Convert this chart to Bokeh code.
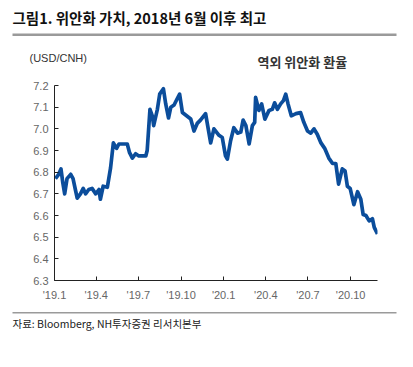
from datetime import datetime
from bokeh.plotting import figure
from bokeh.layouts import column
from bokeh.models import Label, BoxAnnotation, FixedTicker, Range1d
from bokeh.embed import file_html
from bokeh.resources import INLINE

dates = ["2019-01-03","2019-01-10","2019-01-15","2019-01-19","2019-01-23","2019-01-28","2019-02-05",
         "2019-02-10","2019-02-15","2019-02-19","2019-02-26","2019-03-04","2019-03-09","2019-03-16",
         "2019-03-23","2019-03-31","2019-04-07","2019-04-10","2019-04-16","2019-04-25","2019-05-02",
         "2019-05-08","2019-05-15","2019-05-20","2019-05-31","2019-06-07","2019-06-12","2019-06-18",
         "2019-06-25","2019-07-02","2019-07-17","2019-07-20","2019-07-26","2019-07-31","2019-08-03",
         "2019-08-11","2019-08-16","2019-08-24","2019-08-29","2019-09-04","2019-09-09","2019-09-16",
         "2019-09-23","2019-09-28","2019-10-04","2019-10-13","2019-10-22","2019-10-29","2019-11-05",
         "2019-11-12","2019-11-23","2019-12-04","2019-12-11","2019-12-22","2019-12-29","2020-01-05",
         "2020-01-09","2020-01-16","2020-01-23","2020-01-31","2020-02-07","2020-02-12","2020-02-18",
         "2020-02-25","2020-03-03","2020-03-08","2020-03-10","2020-03-17","2020-03-23","2020-03-30",
         "2020-04-08","2020-04-15","2020-04-20","2020-04-26","2020-05-03","2020-05-09","2020-05-14",
         "2020-05-19","2020-05-26","2020-06-05","2020-06-15","2020-06-22","2020-06-30","2020-07-07",
         "2020-07-14","2020-07-21","2020-07-29","2020-08-06","2020-08-15","2020-08-23","2020-08-30",
         "2020-09-05","2020-09-13","2020-09-19","2020-09-24","2020-09-30","2020-10-08","2020-10-16",
         "2020-10-23","2020-10-28","2020-11-03","2020-11-10","2020-11-17","2020-11-21","2020-11-28"]
usdcnh = [6.77,6.79,6.815,6.75,6.70,6.77,6.79,
          6.77,6.72,6.68,6.70,6.725,6.70,6.72,
          6.725,6.70,6.72,6.675,6.735,6.73,6.82,
          6.935,6.91,6.93,6.93,6.93,6.89,6.865,
          6.885,6.875,6.875,6.90,7.09,7.06,7.015,
          7.09,7.16,7.185,7.115,7.05,7.10,7.11,
          7.14,7.16,7.075,7.06,7.045,6.99,7.025,
          7.04,7.07,6.935,7.0,6.97,6.96,6.875,
          6.86,6.945,7.005,6.98,6.985,7.04,7.015,
          6.93,7.015,7.03,7.145,7.085,7.115,7.045,
          7.085,7.09,7.12,7.09,7.115,7.13,7.16,
          7.115,7.06,7.07,7.075,7.03,6.99,6.98,
          7.0,6.975,6.935,6.91,6.865,6.84,6.84,
          6.745,6.815,6.805,6.735,6.725,6.65,6.71,
          6.675,6.605,6.60,6.575,6.585,6.545,6.515]

tick_dates = ["2019-01-01","2019-04-01","2019-07-01","2019-10-01",
              "2020-01-01","2020-04-01","2020-07-01","2020-10-01"]
tick_labels = ["'19.1","'19.4","'19.7","'19.10","'20.1","'20.4","'20.7","'20.10"]
y_ticks = [6.3,6.4,6.5,6.6,6.7,6.8,6.9,7.0,7.1,7.2]

title_text = "그림1. 위안화 가치, 2018년 6월 이후 최고"
unit_text = "(USD/CNH)"
series_text = "역외 위안화 환율"
source_text = "자료: Bloomberg, NH투자증권 리서치본부"

FONT = "Liberation Sans"
KFONT = "Noto Sans CJK KR"
W = 405
TOP_H, MAIN_H, BOT_H = 70, 233, 56


def no_align(f):
    try:
        f.frame_align = False
    except Exception:
        pass


def blank_fig(h):
    f = figure(width=W, height=h, output_backend="svg", toolbar_location=None,
               x_axis_location=None, y_axis_location=None,
               min_border=0, min_border_left=0, min_border_right=0,
               min_border_top=0, min_border_bottom=0)
    f.x_range = Range1d(0, W)
    f.y_range = Range1d(h, 0)
    f.grid.visible = False
    f.outline_line_color = None
    f.border_fill_color = "white"
    f.background_fill_color = "white"
    no_align(f)
    return f


def add_text(f, x, y, text, size, color, bold=False, font=KFONT):
    f.add_layout(Label(x=x, y=y, text=text, text_font=font, text_font_size=size,
                       text_color=color, text_font_style="bold" if bold else "normal",
                       text_baseline="middle", text_align="left"))


def add_rule(f, x0, x1, y0, y1, color="#9a9a9a"):
    f.add_layout(BoxAnnotation(left=x0, right=x1, top=y0, bottom=y1,
                               fill_color=color, fill_alpha=1, line_alpha=0))


# ---- header ----
top = blank_fig(TOP_H)
add_text(top, 12, 17, title_text, "14.5px", "#111111", bold=True)
add_rule(top, 12, 396, 33, 35.5)
add_text(top, 29, 57, unit_text, "11px", "#333333", font=FONT)
add_text(top, 257, 60.5, series_text, "13px", "#333333", bold=True)

# ---- main chart ----
xs = [datetime.strptime(d, "%Y-%m-%d") for d in dates]


def ms(d):
    return datetime.strptime(d, "%Y-%m-%d").timestamp() * 1000.0


tick_ms = [ms(d) for d in tick_dates]

p = figure(width=W, height=MAIN_H, x_axis_type="datetime", output_backend="svg",
           toolbar_location=None, min_border_left=54, min_border_right=W - 377,
           min_border_top=15, min_border_bottom=23)
p.x_range = Range1d(ms("2019-01-01"), ms(dates[-1]))
p.y_range = Range1d(6.3, 7.2)
p.grid.visible = False
p.outline_line_color = None
p.border_fill_color = "white"
no_align(p)

p.line(xs, usdcnh, line_color="#0b4d9b", line_width=3.7, line_join="round")

for ax in (p.xaxis[0], p.yaxis[0]):
    ax.axis_line_color = "#222222"
    ax.major_tick_line_color = "#222222"
    ax.major_tick_in = 4
    ax.major_tick_out = 0
    ax.minor_tick_line_color = None
    ax.major_label_text_font = FONT
    ax.major_label_text_font_size = "11px"
    ax.major_label_text_color = "#666666"

p.xaxis.ticker = FixedTicker(ticks=tick_ms)
p.xaxis.major_label_overrides = {t: l for t, l in zip(tick_ms, tick_labels)}
p.xaxis.major_label_standoff = 8
p.yaxis.ticker = FixedTicker(ticks=y_ticks)
p.yaxis.major_label_overrides = {v: f"{v:.1f}" for v in y_ticks}
p.yaxis.major_label_standoff = 6

# ---- footer ----
bot = blank_fig(BOT_H)
add_rule(bot, 12, 396, 8.5, 10)
add_text(bot, 12, 20, source_text, "10.5px", "#222222")

layout = column(top, p, bot, spacing=0)
open("out.html", "w").write(file_html(layout, INLINE))
